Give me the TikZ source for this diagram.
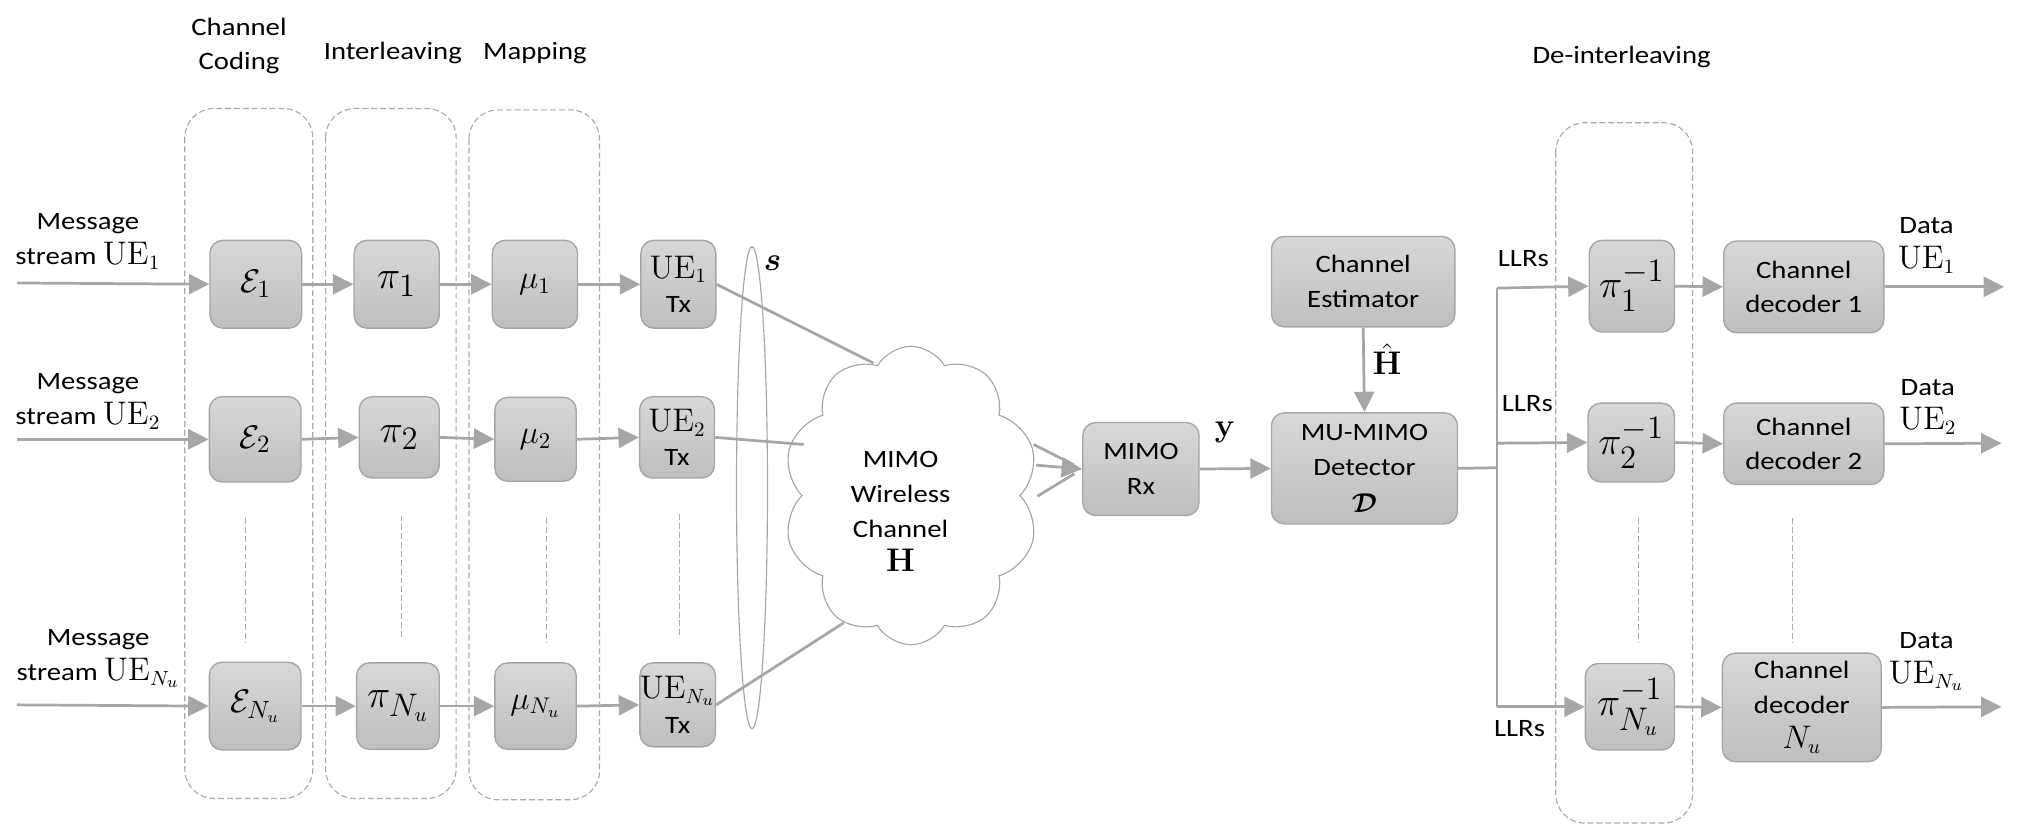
\documentclass[tikz,border=0pt]{standalone}
\usepackage[no-math]{fontspec}
\setmainfont{Carlito}[FakeStretch=1.15]
\usepackage{amsmath,bm}
\usetikzlibrary{arrows.meta,shapes.geometric,shapes.symbols}
\definecolor{boxtop}{RGB}{216,216,216}
\definecolor{boxbot}{RGB}{190,190,190}
\definecolor{boxline}{RGB}{165,165,165}
\definecolor{arrc}{RGB}{166,166,166}
\definecolor{dashc}{RGB}{170,170,170}
\newcommand\tf{\fontsize{11}{15.3}\selectfont}
\newcommand\pf{\fontsize{19}{22}\selectfont}
\newcommand\ef{\fontsize{15}{18}\selectfont}
\newcommand\mf{\fontsize{14}{16}\selectfont}
\newcommand\mm[1]{{\fontsize{13.5}{15.3}\selectfont$#1$}}
\begin{document}
\begin{tikzpicture}[x=0.02cm,y=-0.02cm,
  blk/.style={draw=boxline, line width=0.6pt, rounded corners=0.2cm, top color=boxtop, bottom color=boxbot, inner sep=0pt, align=center, font=\tf},
  arrow/.style={draw=arrc, line width=1.2pt, -{Triangle[length=9pt,width=8.8pt]}},
  link/.style={draw=arrc, line width=1.2pt},
  grp/.style={draw=dashc, line width=0.5pt, dash pattern=on 2.6pt off 1.3pt, rounded corners=0.45cm},
  dots/.style={draw=dashc, line width=0.5pt, dash pattern=on 2.6pt off 1.3pt},
  lbl/.style={align=center, inner sep=0pt, font=\tf},
  thin/.style={draw=boxline, line width=0.5pt}]
\useasboundingbox (0,0) rectangle (1568,638);

% group boxes
\draw[grp] (143,84) rectangle (242,618);
\draw[grp] (252,84) rectangle (353,618);
\draw[grp] (363,85) rectangle (464,619);
\draw[grp] (1204,95) rectangle (1310,637);

% titles
\node[lbl] (tcc) at (185,35.5) {Channel\\Coding};
\node[lbl] (tint) at (304,41) {Interleaving};
\node[lbl] (tmap) at (414,41) {Mapping};
\node[lbl] (tdei) at (1255,44) {De-interleaving};

% message labels
\node[lbl] (msg1) at (68,187) {Message\\stream \mm{\mathrm{UE}_1}};
\node[lbl] (msg2) at (68,310.5) {Message\\stream \mm{\mathrm{UE}_2}};
\node[lbl] (msg3) at (76,509.5) {Message\\stream \mm{\mathrm{UE}_{N_u}}};
\coordinate (in1) at (13,219);
\coordinate (in2) at (13,340);
\coordinate (in3) at (13,545.5);

% blocks
\node[blk, minimum width=1.42cm, minimum height=1.36cm, font=\ef] (e1) at (198,220) {$\mathcal{E}_1$};
\node[blk, minimum width=1.42cm, minimum height=1.32cm, font=\ef] (e2) at (197.5,340) {$\mathcal{E}_2$};
\node[blk, minimum width=1.42cm, minimum height=1.36cm, font=\ef] (e3) at (197.5,546.5) {$\mathcal{E}_{N_u}$};

\node[blk, minimum width=1.32cm, minimum height=1.36cm, font=\pf] (p1) at (307,220) {$\pi_1$};
\node[blk, minimum width=1.24cm, minimum height=1.26cm, font=\pf] (p2) at (309,338.5) {$\pi_2$};
\node[blk, minimum width=1.28cm, minimum height=1.34cm, font=\pf] (p3) at (308,546.5) {$\pi_{N_u}$};

\node[blk, minimum width=1.32cm, minimum height=1.36cm, font=\mf] (m1) at (414,220) {$\mu_1$};
\node[blk, minimum width=1.26cm, minimum height=1.30cm, font=\mf] (m2) at (414.5,340) {$\mu_2$};
\node[blk, minimum width=1.26cm, minimum height=1.34cm, font=\mf] (m3) at (414.5,546.5) {$\mu_{N_u}$};

\node[blk, minimum width=1.16cm, minimum height=1.36cm] (t1) at (525,220) {\mm{\mathrm{UE}_1}\\Tx};
\node[blk, minimum width=1.16cm, minimum height=1.26cm] (t2) at (524,338.5) {\mm{\mathrm{UE}_2}\\Tx};
\node[blk, minimum width=1.16cm, minimum height=1.30cm] (t3) at (524.5,545.5) {\mm{\mathrm{UE}_{N_u}}\\Tx};

% s ellipse
\node[ellipse, thin, minimum width=0.48cm, minimum height=7.46cm, inner sep=0pt] (sgrp) at (582,377.5) {};
\node[lbl, font=\fontsize{15}{18}\selectfont] (slbl) at (598,203.5) {$\boldsymbol{s}$};

% cloud
\node[cloud, thin, fill=white, cloud puffs=10, cloud puff arc=120, aspect=0.86,
      minimum width=3.96cm, minimum height=4.62cm, inner sep=0pt] (cloud) at (705,383.5) {};
\node[lbl] (ctext) at (697,396) {MIMO\\Wireless\\Channel\\\mm{\mathbf{H}}};
\coordinate (c1) at (676,281);
\coordinate (c2) at (622,344);
\coordinate (c3) at (653,482);
\coordinate (k1) at (800,344);
\coordinate (k2) at (802,360);
\coordinate (k3) at (803,384);

% receiver side
\node[blk, minimum width=1.80cm, minimum height=1.44cm] (rx) at (883,363) {MIMO\\Rx};
\node[blk, minimum width=2.88cm, minimum height=1.72cm] (det) at (1056,362.5) {MU-MIMO\\Detector\\[1pt]{\fontsize{12.5}{15}\selectfont$\boldsymbol{\mathcal{D}}$}};
\node[blk, minimum width=2.84cm, minimum height=1.40cm] (ce) at (1055,218) {Channel\\Estimator};
\node[lbl] (ylbl) at (948,335) {\mm{\mathbf{y}}};
\node[lbl, anchor=west] (hlbl) at (1062,278) {\mm{\hat{\mathbf{H}}}};

\coordinate (bm) at (1158.5,362);
\coordinate (b1) at (1158.5,223);
\coordinate (b2) at (1158.5,343);
\coordinate (b3) at (1158.5,547);

\node[blk, minimum width=1.32cm, minimum height=1.42cm, font=\pf] (q1) at (1263,221.5) {$\pi_1^{-1}$};
\node[blk, minimum width=1.34cm, minimum height=1.22cm, font=\pf] (q2) at (1262.5,342.5) {$\pi_2^{-1}$};
\node[blk, minimum width=1.38cm, minimum height=1.34cm, font=\pf] (q3) at (1261.5,547) {$\pi_{N_u}^{-1}$};

\node[blk, minimum width=2.48cm, minimum height=1.42cm] (d1) at (1396,222) {Channel\\decoder 1};
\node[blk, minimum width=2.48cm, minimum height=1.26cm] (d2) at (1396,343.5) {Channel\\decoder 2};
\node[blk, minimum width=2.46cm, minimum height=1.68cm] (d3) at (1394.5,547.5) {Channel\\decoder\\\mm{N_u}};

\coordinate (o1) at (1551,222);
\coordinate (o2) at (1549,343);
\coordinate (o3) at (1549,547);

\node[lbl] (llr1) at (1179,200) {LLRs};
\node[lbl] (llr2) at (1182,312) {LLRs};
\node[lbl] (llr3) at (1176,564) {LLRs};
\node[lbl] (data1) at (1491,190) {Data\\\mm{\mathrm{UE}_1}};
\node[lbl] (data2) at (1492,315) {Data\\\mm{\mathrm{UE}_2}};
\node[lbl] (data3) at (1491,512) {Data\\\mm{\mathrm{UE}_{N_u}}};

% dotted continuation lines
\draw[dots] (190,401) -- (190,497);
\draw[dots] (311,399) -- (311,494);
\draw[dots] (423,401) -- (423,497);
\draw[dots] (526,398) -- (526,493);
\draw[dots] (1268,401) -- (1268,497);
\draw[dots] (1387,401) -- (1387,497);

% connectors
\draw[arrow] (in1) -- (e1.west);
\draw[arrow] (in2) -- (e2.west);
\draw[arrow] (in3) -- (e3.west);
\foreach \r in {1,2,3}{
  \draw[arrow] (e\r.east) -- (p\r.west);
  \draw[arrow] (p\r.east) -- (m\r.west);
  \draw[arrow] (m\r.east) -- (t\r.west);
}
\draw[link] (t1.east) -- (c1);
\draw[link] (t2.east) -- (c2);
\draw[link] (t3.east) -- (c3);
\draw[link, shorten >=4pt] (k1) -- (rx.west);
\draw[link, shorten >=4pt] (k3) -- (rx.west);
\draw[arrow] (k2) -- (rx.west);
\draw[arrow] (rx.east) -- (det.west);
\draw[arrow] (ce.south) -- (det.north);
\draw[link] (det.east) -- (bm);
\draw[link] (b1) -- (b3);
\draw[arrow] (b1) -- (q1.west);
\draw[arrow] (b2) -- (q2.west);
\draw[arrow] (b3) -- (q3.west);
\foreach \r in {1,2,3}{
  \draw[arrow] (q\r.east) -- (d\r.west);
  \draw[arrow] (d\r.east) -- (o\r);
}
\end{tikzpicture}
\end{document}
